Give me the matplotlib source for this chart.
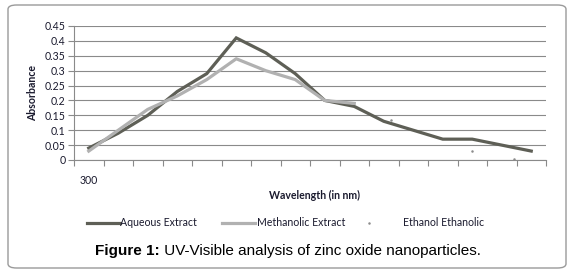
import numpy as np
import matplotlib.pyplot as plt
from matplotlib.lines import Line2D
from matplotlib.patches import FancyBboxPatch

# values
x_labels = ['300'] + [''] * 15
aqueous = [0.04, 0.09, 0.15, 0.23, 0.29, 0.41, 0.36, 0.29, 0.20, 0.18,
           0.13, 0.10, 0.07, 0.07, 0.05, 0.03]
methanolic = [0.03, 0.10, 0.17, 0.215, 0.27, 0.34, 0.30, 0.27, 0.20, 0.19]
ethanol_x = [10.25, 13.0, 14.4]
ethanol = [0.135, 0.03, 0.002]
y_ticks = [0, 0.05, 0.1, 0.15, 0.2, 0.25, 0.3, 0.35, 0.4, 0.45]

W, H = 577, 279
DARK = '#5e5f56'
LIGHT = '#b1b1b1'
GRID = '#8a8a8a'
TXT = '#1a1a2e'
chart_font = 'Lato'
fs = 7.6

fig = plt.figure(figsize=(W / 100, H / 100), dpi=100)

# rounded frame around chart and caption
frame = FancyBboxPatch((8 / W, 1 - 268 / H), 558 / W, 263 / H,
                       boxstyle='round,pad=0,rounding_size=0.015',
                       transform=fig.transFigure, fc='white', ec='#9a9a9a', lw=1,
                       zorder=-10)
fig.add_artist(frame)

ax = fig.add_axes([74 / W, 1 - 160 / H, 472 / W, 134 / H])
ax.set_facecolor('none')
ax.set_zorder(5)

pos = np.arange(len(aqueous))
ax.plot(pos, aqueous, color=DARK, lw=2.3, solid_joinstyle='miter')
ax.plot(np.arange(len(methanolic)), methanolic, color=LIGHT, lw=2.3)
ax.plot(ethanol_x, ethanol, ls='none', marker='o', ms=1.8, color='#8c8c8c', mew=0)

ax.set_xlim(-0.5, len(aqueous) - 0.5)
ax.set_ylim(0, 0.45)
ax.set_yticks(y_ticks)
ax.set_yticklabels([f'{v:g}' for v in y_ticks], fontsize=fs, family=chart_font, color=TXT)
ax.yaxis.grid(True, color=GRID, lw=0.8)
ax.set_axisbelow(True)

ax.set_xticks(np.arange(-0.5, len(aqueous)))
ax.set_xticklabels([])
ax.set_xticks(pos, minor=True)
ax.set_xticklabels(x_labels, minor=True, fontsize=fs, family=chart_font, color=TXT)
ax.tick_params(axis='x', which='major', length=4, color=GRID, direction='out')
ax.tick_params(axis='x', which='minor', length=0, pad=11)
ax.tick_params(axis='y', length=4, color=GRID, pad=2)

for side in ['top', 'right']:
    ax.spines[side].set_visible(False)
for side in ['left', 'bottom']:
    ax.spines[side].set_color(GRID)
    ax.spines[side].set_linewidth(0.8)

fig.text(33 / W, 1 - 93 / H, 'Absorbance', rotation=90, ha='center', va='center',
         fontsize=fs, fontweight='bold', family=chart_font, color=TXT)
fig.text(315 / W, 1 - 195 / H, 'Wavelength (in nm)', ha='center', va='center',
         fontsize=fs, fontweight='bold', family=chart_font, color=TXT)

# legend row
ly = 1 - 223 / H
fig.add_artist(Line2D([87 / W, 120 / W], [ly, ly], color=DARK, lw=2.3))
fig.text(120 / W, ly, 'Aqueous Extract', va='center', fontsize=fs, family=chart_font, color=TXT)
fig.add_artist(Line2D([222 / W, 255 / W], [ly, ly], color=LIGHT, lw=2.3))
fig.text(257 / W, ly, 'Methanolic Extract', va='center', fontsize=fs, family=chart_font, color=TXT)
fig.add_artist(Line2D([369 / W], [ly], ls='none', marker='o', ms=1.8, mew=0, color='#8c8c8c'))
fig.text(403 / W, ly, 'Ethanol Ethanolic', va='center', fontsize=fs, family=chart_font, color=TXT)

# caption
cy = 1 - 251 / H
t1 = fig.text(95 / W, cy, 'Figure 1:', va='center', fontsize=11,
              fontweight='bold', family='Liberation Sans')
fig.canvas.draw()
bb = t1.get_window_extent()
fig.text(bb.x1 / W, cy, ' UV-Visible analysis of zinc oxide nanoparticles.',
         va='center', fontsize=11, family='Liberation Sans')

fig.savefig('out.png', dpi=100)
